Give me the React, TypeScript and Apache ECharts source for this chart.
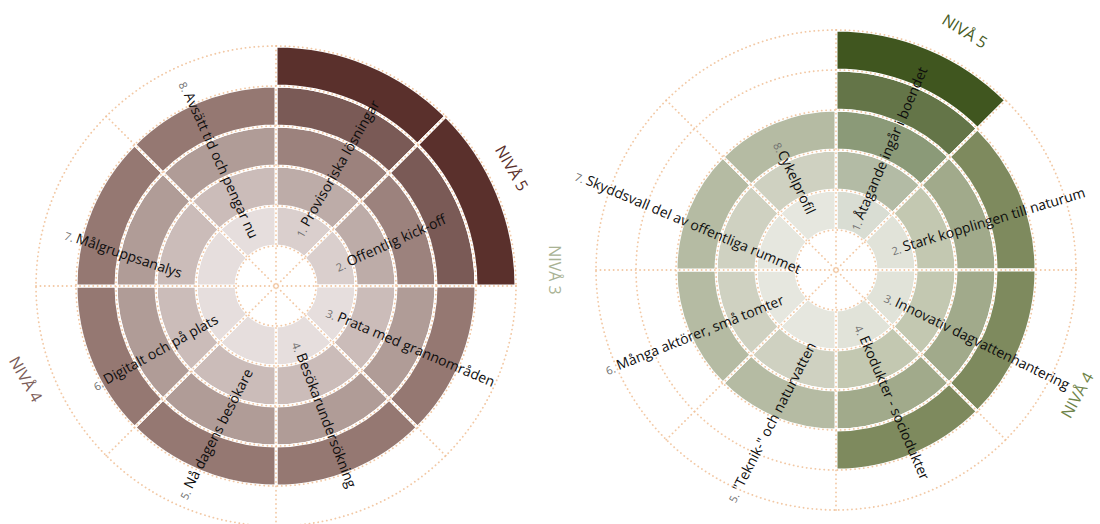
import React, { useEffect, useRef } from 'react';
import * as echarts from 'echarts';

// ---------- data ----------
const leftCategories = [
  'Provisoriska lösningar',
  'Offentlig kick-off',
  'Prata med grannområden',
  'Besökarundersökning',
  'Nå dagens besökare',
  'Digitalt och på plats',
  'Målgruppsanalys',
  'Avsätt tid och pengar nu',
];
const leftNumbers = ['1. ', '2. ', '3. ', '4. ', '5. ', '6. ', '7. ', '8. '];
const leftLevels = [5, 5, 4, 4, 4, 4, 4, 4];

const rightCategories = [
  'Åtagande ingår i boendet',
  'Stark kopplingen till naturum',
  'Innovativ dagvattenhantering',
  'Ekodukter - sociodukter',
  '"Teknik-" och naturvatten',
  'Många aktörer, små tomter',
  'Skyddsvall del av offentliga rummet',
  'Cykelprofil',
];
const rightNumbers = ['1. ', '2. ', '3. ', '4. ', '5. ', '6. ', '7. ', '8.'];
const rightLevels = [5, 4, 4, 4, 3, 3, 3, 3];

const levelTicks = [1, 2, 3, 4, 5];
const levelNames = ['NIVÅ 3', 'NIVÅ 4', 'NIVÅ 5'];

// ---------- styles / layout ----------
const FONT = '"Open Sans", "Noto Sans", sans-serif';

const brownPalette: Record<number, string[]> = {
  5: ['#dacfcd', '#bdaca8', '#9c827d', '#7a5a56', '#5a302c'],
  4: ['#e6dedd', '#cbbcb9', '#b09c97', '#957872'],
};
const greenPalette: Record<number, string[]> = {
  5: ['#d9ddd3', '#b3bba5', '#8b9a78', '#647548', '#40561f'],
  4: ['#e1e3d9', '#c3c8b1', '#a1aa8b', '#7e8a5e'],
  3: ['#e6e7df', '#cfd1c1', '#b5bba3'],
};

const leftCenter = [276, 286];
const rightCenter = [836, 270];
const OUTER = 240;

// label anchor: angle (deg clockwise from top), radius, rotation (deg)
const leftLabelLayout = [
  { phi: 23.3, r: 55, rot: 60 },
  { phi: 72, r: 63, rot: 24 },
  { phi: 116, r: 57, rot: -23 },
  { phi: 159.4, r: 60, rot: -69 },
  { phi: 204, r: 232, rot: 62.5 },
  { phi: 241.3, r: 208, rot: 29 },
  { phi: 284, r: 217, rot: -18.7 },
  { phi: 335.7, r: 224, rot: -65.5 },
];
const rightLabelLayout = [
  { phi: 23, r: 44, rot: 66.8 },
  { phi: 70, r: 59, rot: 16.8 },
  { phi: 117.5, r: 56, rot: -26 },
  { phi: 157, r: 60, rot: -66.6 },
  { phi: 204.6, r: 254, rot: 62.8 },
  { phi: 246.6, r: 251, rot: 21.8 },
  { phi: 290.2, r: 277, rot: -22.9 },
  { phi: 335.6, r: 140, rot: -64.5 },
];
const levelTitleLayout = [
  { center: leftCenter, name: 2, dx: 236, dy: -118, rot: -60, color: '#5a302c' },
  { center: leftCenter, name: 1, dx: -250, dy: 93, rot: -60, color: '#7b5c58' },
  { center: rightCenter, name: 2, dx: 129, dy: -239, rot: -32, color: '#485c25' },
  { center: rightCenter, name: 1, dx: 241, dy: 125, rot: 61, color: '#6f8449' },
  { center: rightCenter, name: 0, dx: -281, dy: 0, rot: -90, color: '#a9b395' },
];

const dotStyle = { color: '#f1c29a', width: 1.8, type: [0.1, 4.3], cap: 'round' as const, opacity: 0.9 };

function buildSeries(levels: number[], palette: Record<number, string[]>, polarIndex: number) {
  return levelTicks.map((lv) => ({
    type: 'bar',
    coordinateSystem: 'polar',
    polarIndex,
    stack: 'stack' + polarIndex,
    barCategoryGap: '0%',
    silent: true,
    z: 2,
    itemStyle: { borderColor: '#ffffff', borderWidth: 3 },
    data: levels.map((max) =>
      max >= lv ? { value: 1, itemStyle: { color: palette[max][lv - 1] } } : '-'
    ),
  }));
}

function point(center: number[], r: number, phiDeg: number) {
  const a = (phiDeg * Math.PI) / 180;
  return [center[0] + r * Math.sin(a), center[1] - r * Math.cos(a)];
}

function buildLabels(center: number[], names: string[], nums: string[], layout: any[]) {
  return names.map((name, i) => {
    const l = layout[i];
    const [x, y] = point(center, l.r, l.phi);
    return {
      type: 'text',
      x,
      y,
      rotation: (l.rot * Math.PI) / 180,
      silent: true,
      z: 30,
      style: {
        text: `{n|${nums[i]}}{t|${name}}`,
        rich: {
          n: { fontSize: 11, fill: '#707070', fontFamily: FONT, verticalAlign: 'bottom' },
          t: { fontSize: 14, fill: '#0d0d0d', fontFamily: FONT, verticalAlign: 'bottom' },
        },
        fontSize: 14,
        fontFamily: FONT,
        align: 'left',
        verticalAlign: 'middle',
        textAlign: 'left',
        textVerticalAlign: 'middle',
      },
    };
  });
}

function axesFor(polarIndex: number, cats: string[]) {
  return {
    angle: {
      polarIndex,
      type: 'category',
      data: cats,
      startAngle: 90,
      clockwise: true,
      boundaryGap: true,
      z: 10,
      axisLine: { show: false },
      axisTick: { show: false },
      axisLabel: { show: false },
      splitLine: { show: true, interval: 0, lineStyle: dotStyle },
    },
    radius: {
      polarIndex,
      type: 'value',
      min: -1,
      max: 5,
      interval: 1,
      z: 10,
      axisLine: { show: false },
      axisTick: { show: false },
      axisLabel: { show: false },
      splitLine: { show: true, lineStyle: dotStyle },
    },
  };
}

export default function App() {
  const ref = useRef<HTMLDivElement>(null);
  useEffect(() => {
    document.body.style.margin = '0';
    if (!ref.current) return;
    const chart = echarts.init(ref.current, null, { renderer: 'svg' });
    const a0 = axesFor(0, leftCategories);
    const a1 = axesFor(1, rightCategories);
    const titles = levelTitleLayout.map((t) => ({
      type: 'text',
      x: t.center[0] + t.dx,
      y: t.center[1] + t.dy,
      rotation: (t.rot * Math.PI) / 180,
      silent: true,
      z: 30,
      style: {
        text: levelNames[t.name],
        fill: t.color,
        fontSize: 16,
        fontFamily: FONT,
        align: 'center',
        verticalAlign: 'middle',
        textAlign: 'center',
        textVerticalAlign: 'middle',
      },
    }));
    chart.setOption({
      animation: false,
      backgroundColor: '#ffffff',
      polar: [
        { center: leftCenter, radius: OUTER },
        { center: rightCenter, radius: OUTER },
      ],
      angleAxis: [a0.angle, a1.angle],
      radiusAxis: [a0.radius, a1.radius],
      series: [
        ...buildSeries(leftLevels, brownPalette, 0),
        ...buildSeries(rightLevels, greenPalette, 1),
      ],
      graphic: [
        ...buildLabels(leftCenter, leftCategories, leftNumbers, leftLabelLayout),
        ...buildLabels(rightCenter, rightCategories, rightNumbers, rightLabelLayout),
        ...titles,
      ],
    });
    return () => chart.dispose();
  }, []);
  return <div ref={ref} style={{ width: 1100, height: 524 }} />;
}
